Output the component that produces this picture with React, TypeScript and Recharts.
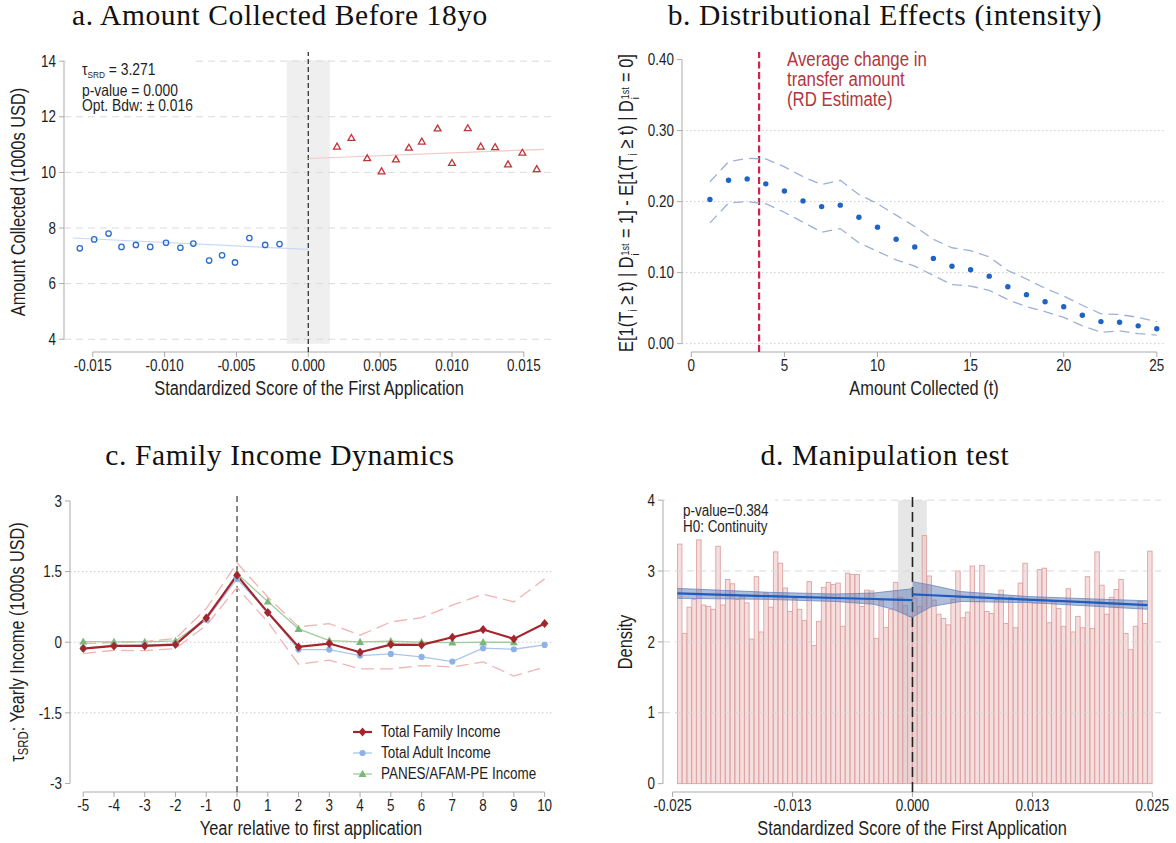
import React from "react";
import {
  ComposedChart,
  Scatter,
  Line,
  Bar,
  Area,
  XAxis,
  YAxis,
  ReferenceLine,
  ReferenceArea,
  Legend,
} from "recharts";

const SANS = "'Liberation Sans Narrow', 'Arial Narrow', 'Liberation Sans', Arial, sans-serif";
const SERIF = "'Liberation Serif', 'Times New Roman', serif";
const NARROW = 0.84; // no condensed face installed, so squeeze the sans horizontally
const AXIS = "#ababab";
const INK = "#1e1e1e";

// ---------- a. Amount collected before 18yo ----------
const aLeftX = [-0.0159, -0.0149, -0.0139, -0.013, -0.012, -0.011, -0.0099, -0.0089, -0.008, -0.0069, -0.006, -0.0051, -0.0041, -0.003, -0.002];
const aLeftY = [7.27, 7.59, 7.8, 7.32, 7.39, 7.32, 7.47, 7.29, 7.44, 6.83, 7.02, 6.76, 7.64, 7.39, 7.42];
const aRightX = [0.002, 0.003, 0.0041, 0.0051, 0.0061, 0.007, 0.0079, 0.009, 0.01, 0.0111, 0.012, 0.013, 0.0139, 0.0149, 0.0159];
const aRightY = [10.93, 11.24, 10.51, 10.04, 10.47, 10.89, 11.11, 11.58, 10.34, 11.59, 10.93, 10.91, 10.29, 10.71, 10.12];
const aFitLeftX = [-0.0164, 0];
const aFitLeftY = [7.64, 7.23];
const aFitRightX = [0, 0.0164];
const aFitRightY = [10.5, 10.83];
const aTicksX = [-0.015, -0.01, -0.005, 0, 0.005, 0.01, 0.015];
const aTicksY = [4, 6, 8, 10, 12, 14];

// ---------- b. Distributional effects ----------
const bT = [1, 2, 3, 4, 5, 6, 7, 8, 9, 10, 11, 12, 13, 14, 15, 16, 17, 18, 19, 20, 21, 22, 23, 24, 25];
const bEst = [0.203, 0.23, 0.232, 0.225, 0.215, 0.201, 0.193, 0.195, 0.178, 0.164, 0.147, 0.136, 0.12, 0.109, 0.104, 0.095, 0.08, 0.069, 0.059, 0.052, 0.04, 0.031, 0.03, 0.025, 0.021];
const bUpper = [0.228, 0.256, 0.261, 0.26, 0.249, 0.235, 0.224, 0.23, 0.21, 0.197, 0.181, 0.165, 0.147, 0.135, 0.131, 0.122, 0.103, 0.091, 0.078, 0.067, 0.054, 0.042, 0.041, 0.037, 0.031];
const bLower = [0.17, 0.198, 0.2, 0.197, 0.185, 0.171, 0.157, 0.162, 0.142, 0.13, 0.118, 0.109, 0.096, 0.083, 0.081, 0.075, 0.062, 0.052, 0.045, 0.037, 0.025, 0.016, 0.018, 0.014, 0.012];
const bRdEstimate = 3.64;
const bTicksX = [0, 5, 10, 15, 20, 25];
const bTicksY = [0, 0.1, 0.2, 0.3, 0.4];
const bGrid = [0, 0.1, 0.2, 0.3];

// ---------- c. Family income dynamics ----------
const cYears = [-5, -4, -3, -2, -1, 0, 1, 2, 3, 4, 5, 6, 7, 8, 9, 10];
const cFamily = [-0.134, -0.078, -0.078, -0.05, 0.517, 1.42, 0.63, -0.099, -0.028, -0.212, -0.05, -0.057, 0.106, 0.269, 0.071, 0.396];
const cAdult = [-0.127, -0.071, -0.057, -0.042, 0.48, 1.345, 0.637, -0.156, -0.156, -0.283, -0.248, -0.311, -0.41, -0.127, -0.149, -0.057];
const cPanesYears = [-5, -4, -3, -2, -1, 0, 1, 2, 3, 4, 5, 6, 7, 8, 9];
const cPanes = [0.014, 0.007, 0.007, 0.028, 0.495, 1.458, 0.863, 0.283, 0.035, 0.007, 0.021, 0, -0.007, 0, 0];
const cUpper = [-0.03, -0.007, 0.014, 0.078, 0.715, 1.684, 0.96, 0.326, 0.396, 0.149, 0.43, 0.524, 0.786, 1.02, 0.856, 1.345];
const cLower = [-0.24, -0.17, -0.18, -0.134, 0.36, 1.16, 0.43, -0.467, -0.382, -0.566, -0.566, -0.495, -0.524, -0.418, -0.72, -0.524];
const cTicksY = [-3, -1.5, 0, 1.5, 3];
const cGrid = [-1.5, 0, 1.5];

// ---------- d. Manipulation test ----------
const dBinWidth = 0.0005;
const dLeftStart = -0.0245;
const dLeft = [3.38, 2.12, 2.49, 2.6, 3.44, 2.52, 2.5, 2.46, 3.35, 2.52, 2.88, 2.82, 2.6, 2.65, 2.55, 2.04, 2.92, 2.14, 2.69, 2.49, 3.27, 3.11, 2.76, 2.43, 2.61, 2.46, 2.3, 2.85, 1.95, 2.29, 2.77, 2.84, 2.81, 2.83, 2.22, 2.97, 2.95, 2.95, 2.5, 2.73, 2.72, 2.05, 2.59, 2.2, 2.46, 2.84, 2.63, 2.51, 2.36];
const dRight = [2.62, 2.5, 3.5, 2.93, 2.59, 2.39, 2.33, 2.24, 2.6, 3.0, 2.34, 2.42, 3.07, 2.57, 3.08, 2.43, 2.4, 2.6, 2.73, 2.26, 2.63, 2.2, 2.83, 3.11, 2.58, 2.55, 3.02, 3.04, 2.27, 2.58, 2.47, 2.22, 2.75, 2.14, 2.36, 2.2, 2.92, 2.19, 3.27, 2.8, 2.39, 2.63, 2.74, 2.88, 2.12, 1.89, 2.22, 2.57, 2.26, 3.28];
const dLeftFitX = [-0.0245, -0.015, -0.008, -0.004, -0.002, 0];
const dLeftFitY = [2.685, 2.645, 2.619, 2.605, 2.597, 2.59];
const dLeftLo = [2.615, 2.6, 2.57, 2.53, 2.46, 2.34];
const dLeftHi = [2.755, 2.7, 2.675, 2.69, 2.72, 2.75];
const dRightFitX = [0, 0.002, 0.005, 0.012, 0.018, 0.0245];
const dRightFitY = [2.67, 2.658, 2.639, 2.597, 2.56, 2.52];
const dRightLo = [2.35, 2.5, 2.57, 2.555, 2.51, 2.46];
const dRightHi = [2.85, 2.8, 2.71, 2.64, 2.61, 2.58];
const dTicksX = [-0.025, -0.0125, 0, 0.0125, 0.025];
const dTickLabels = ["-0.025", "-0.013", "0.000", "0.013", "0.025"];
const dTicksY = [0, 1, 2, 3, 4];
const dGrid = [1, 2, 3, 4];

// rows for the library
const pts = (xs: number[], ys: number[]) => xs.map((x, i) => ({ x, y: ys[i] }));
const bandRows = (xs: number[], lo: number[], hi: number[]) => xs.map((x, i) => ({ x, band: [lo[i], hi[i]] }));

const aLeft = pts(aLeftX, aLeftY);
const aRight = pts(aRightX, aRightY);
const aFitLeft = pts(aFitLeftX, aFitLeftY);
const aFitRight = pts(aFitRightX, aFitRightY);
const bDots = pts(bT, bEst);
const bUp = pts(bT, bUpper);
const bLo = pts(bT, bLower);
const cFam = pts(cYears, cFamily);
const cAd = pts(cYears, cAdult);
const cPa = pts(cPanesYears, cPanes);
const cUp = pts(cYears, cUpper);
const cLo = pts(cYears, cLower);
const dHist = [
  ...dLeft.map((y, i) => ({ x: dLeftStart + (i + 0.5) * dBinWidth, y })),
  ...dRight.map((y, i) => ({ x: (i + 0.5) * dBinWidth, y })),
];
const dLeftFit = pts(dLeftFitX, dLeftFitY);
const dRightFit = pts(dRightFitX, dRightFitY);
const dLeftBand = bandRows(dLeftFitX, dLeftLo, dLeftHi);
const dRightBand = bandRows(dRightFitX, dRightLo, dRightHi);

const RED = "#a6242b";
const BLUE_L = "#a9c5ec";
const BLUE_M = "#8db3e6";
const GREEN_L = "#9fcd9f";
const GREEN_M = "#7ab87a";

// tick text, squeezed to look like the condensed face of the original
const narrowTick = (axis: "x" | "y", fmt: (v: number) => string = (v) => String(v)) => (props: any) => {
  const { x, y, payload, textAnchor } = props;
  return (
    <text
      transform={`translate(${x},${y}) scale(${NARROW},1)`}
      textAnchor={textAnchor}
      dy={axis === "x" ? "0.71em" : "0.355em"}
      fontSize={16}
      fill={INK}
      fontFamily={SANS}
    >
      {fmt(payload.value)}
    </text>
  );
};

const Marker = ({ kind, cx, cy, color }: { kind: string; cx: number; cy: number; color: string }) => {
  if (kind === "diamond")
    return <path d={`M${cx},${cy - 4.5}L${cx + 3.8},${cy}L${cx},${cy + 4.5}L${cx - 3.8},${cy}Z`} fill={color} />;
  if (kind === "triangle")
    return <path d={`M${cx},${cy - 4.2}L${cx + 4},${cy + 3}L${cx - 4},${cy + 3}Z`} fill={color} />;
  return <circle cx={cx} cy={cy} r={3.1} fill={color} />;
};

const hollowCircle = (p: any) => <circle cx={p.cx} cy={p.cy} r={2.7} fill="none" stroke="#2c6bcc" strokeWidth={1.3} />;
const hollowTriangle = (p: any) => (
  <path d={`M${p.cx},${p.cy - 3.4}L${p.cx + 3.4},${p.cy + 2.5}L${p.cx - 3.4},${p.cy + 2.5}Z`} fill="none" stroke="#c0343a" strokeWidth={1.3} />
);
const solidDot = (p: any) => <circle cx={p.cx} cy={p.cy} r={2.7} fill="#1e63c6" />;

// histogram bin: keep the library's centre and height, draw it a full bin wide
const HIST_W = 4.5;
const histBar = (p: any) => {
  const cx = p.x + p.width / 2;
  return (
    <rect x={cx - HIST_W / 2} y={p.y} width={HIST_W} height={p.height} fill="#eec2c2" fillOpacity={0.55} stroke="#dba4a4" strokeWidth={0.9} />
  );
};

const Sub: React.FC<React.PropsWithChildren<{ size?: string }>> = ({ children, size = "0.6em" }) => (
  <span style={{ fontSize: size, verticalAlign: "-0.3em" }}>{children}</span>
);
const SupSub = ({ sup, sub }: { sup: string; sub: string }) => (
  <span style={{ display: "inline-flex", flexDirection: "column", fontSize: "0.55em", lineHeight: 0.95, verticalAlign: "0.4em", margin: "0 1px" }}>
    <span>{sup}</span>
    <span>{sub}</span>
  </span>
);

const Text: React.FC<React.PropsWithChildren<{ x: number; y: number; size?: number; rotate?: boolean; squeeze?: number }>> = ({
  x,
  y,
  size = 19.5,
  rotate,
  squeeze = NARROW,
  children,
}) => (
  <div
    style={{
      position: "absolute",
      left: x,
      top: y,
      transform: `translate(-50%,-50%)${rotate ? " rotate(-90deg)" : ""} scaleX(${squeeze})`,
      whiteSpace: "nowrap",
      fontFamily: SANS,
      fontSize: size,
      color: INK,
      lineHeight: 1.1,
    }}
  >
    {children}
  </div>
);

const Note: React.FC<React.PropsWithChildren<{ left: number; top: number; size: number; lh: number; color?: string }>> = ({
  left,
  top,
  size,
  lh,
  color = INK,
  children,
}) => (
  <div
    style={{
      position: "absolute",
      left,
      top,
      fontFamily: SANS,
      fontSize: size,
      lineHeight: `${lh}px`,
      color,
      whiteSpace: "nowrap",
      transform: `scaleX(${NARROW})`,
      transformOrigin: "0 0",
    }}
  >
    {children}
  </div>
);

const Title: React.FC<React.PropsWithChildren<{ cx: number; top: number }>> = ({ cx, top, children }) => (
  <div
    style={{
      position: "absolute",
      left: cx - 300,
      width: 600,
      top,
      textAlign: "center",
      fontFamily: SERIF,
      fontSize: 29.5,
      lineHeight: "29px",
      letterSpacing: 0.6,
      color: "#111",
    }}
  >
    {children}
  </div>
);

const axisProps = { axisLine: false, tickLine: { stroke: AXIS }, tickSize: 5, tickMargin: 3, allowDataOverflow: true };

const PanelA = () => (
  <ComposedChart width={575} height={420} margin={{ top: 52, right: 21, bottom: 28, left: 0 }}>
    <ReferenceArea x1={-0.0015} x2={0.0015} y1={3.84} y2={14.03} fill="#efefef" fillOpacity={1} stroke="none" ifOverflow="visible" />
    {aTicksY.map((v) => (
      <ReferenceLine key={v} y={v} stroke="#dadada" strokeDasharray="7 5" />
    ))}
    <XAxis type="number" dataKey="x" domain={[-0.017, 0.0171]} ticks={aTicksX} tick={narrowTick("x", (v) => v.toFixed(3))} height={40} {...axisProps} />
    <YAxis type="number" dataKey="y" domain={[3.54, 14.33]} ticks={aTicksY} tick={narrowTick("y")} width={64} {...axisProps} />
    <ReferenceLine segment={[{ x: -0.017, y: 4 }, { x: -0.017, y: 14 }]} stroke={AXIS} ifOverflow="visible" />
    <ReferenceLine segment={[{ x: -0.015, y: 3.54 }, { x: 0.015, y: 3.54 }]} stroke={AXIS} ifOverflow="visible" />
    <ReferenceLine x={0} stroke="#333" strokeDasharray="5 3" strokeWidth={1.3} />
    <Line data={aFitLeft} dataKey="y" stroke="#c7daf3" strokeWidth={1.2} dot={false} activeDot={false} isAnimationActive={false} />
    <Line data={aFitRight} dataKey="y" stroke="#f2c8c8" strokeWidth={1.2} dot={false} activeDot={false} isAnimationActive={false} />
    <Scatter data={aLeft} dataKey="y" shape={hollowCircle} isAnimationActive={false} />
    <Scatter data={aRight} dataKey="y" shape={hollowTriangle} isAnimationActive={false} />
  </ComposedChart>
);

const PanelB = () => (
  <ComposedChart width={586} height={420} margin={{ top: 52, right: 11, bottom: 28, left: 0 }}>
    {bGrid.map((v) => (
      <ReferenceLine key={v} y={v} stroke="#cdcdcd" strokeDasharray="1.5 2.5" />
    ))}
    <XAxis type="number" dataKey="x" domain={[-0.5, 25.44]} ticks={bTicksX} tick={narrowTick("x")} height={40} {...axisProps} />
    <YAxis type="number" dataKey="y" domain={[-0.0118, 0.4107]} ticks={bTicksY} tick={narrowTick("y", (v) => v.toFixed(2))} width={92} {...axisProps} />
    <ReferenceLine segment={[{ x: -0.5, y: 0 }, { x: -0.5, y: 0.4 }]} stroke={AXIS} ifOverflow="visible" />
    <ReferenceLine segment={[{ x: 0, y: -0.0118 }, { x: 25, y: -0.0118 }]} stroke={AXIS} ifOverflow="visible" />
    <ReferenceLine x={bRdEstimate} stroke="#d3224e" strokeWidth={2.2} strokeDasharray="7 3.5" />
    <Line data={bUp} dataKey="y" stroke="#9cb0d9" strokeWidth={1.3} strokeDasharray="10 6" dot={false} activeDot={false} isAnimationActive={false} />
    <Line data={bLo} dataKey="y" stroke="#9cb0d9" strokeWidth={1.3} strokeDasharray="10 6" dot={false} activeDot={false} isAnimationActive={false} />
    <Scatter data={bDots} dataKey="y" shape={solidDot} isAnimationActive={false} />
  </ComposedChart>
);

const legendItems = [
  { name: "Total Family Income", color: RED, mark: RED, width: 2.2, kind: "diamond" },
  { name: "Total Adult Income", color: BLUE_L, mark: BLUE_M, width: 1.3, kind: "circle" },
  { name: "PANES/AFAM-PE Income", color: GREEN_L, mark: GREEN_M, width: 1.3, kind: "triangle" },
];

const CLegend = () => (
  <div style={{ fontFamily: SANS, fontSize: 16, color: INK }}>
    {legendItems.map((it) => (
      <div key={it.name} style={{ display: "flex", alignItems: "center", height: 21 }}>
        <svg width={28} height={12} style={{ display: "block", flex: "none" }}>
          <line x1={0} x2={19} y1={6} y2={6} stroke={it.color} strokeWidth={it.width} />
          <Marker kind={it.kind} cx={9.5} cy={6} color={it.mark} />
        </svg>
        <span style={{ display: "inline-block", whiteSpace: "nowrap", transform: `scaleX(${NARROW})`, transformOrigin: "0 50%" }}>{it.name}</span>
      </div>
    ))}
  </div>
);

const dotOf = (kind: string, color: string) => (p: any) => <Marker key={`${kind}${p.index}`} kind={kind} cx={p.cx} cy={p.cy} color={color} />;

const PanelC = () => (
  <ComposedChart width={575} height={403} margin={{ top: 52, right: 23, bottom: 11, left: 0 }}>
    {cGrid.map((v) => (
      <ReferenceLine key={v} y={v} stroke="#cccccc" strokeDasharray="1.5 2.5" />
    ))}
    <XAxis type="number" dataKey="x" domain={[-5.43, 10.24]} ticks={cYears} tick={narrowTick("x")} height={40} {...axisProps} />
    <YAxis type="number" dataKey="y" domain={[-3.18, 3.19]} ticks={cTicksY} tick={narrowTick("y")} width={70} {...axisProps} />
    <ReferenceLine segment={[{ x: -5.43, y: -3 }, { x: -5.43, y: 3 }]} stroke={AXIS} ifOverflow="visible" />
    <ReferenceLine segment={[{ x: -5, y: -3.18 }, { x: 10, y: -3.18 }]} stroke={AXIS} ifOverflow="visible" />
    <ReferenceLine x={0} stroke="#555" strokeDasharray="6 4" strokeWidth={1.4} />
    <Line data={cUp} dataKey="y" stroke="#f2b3b3" strokeWidth={1.3} strokeDasharray="13 6" dot={false} activeDot={false} isAnimationActive={false} />
    <Line data={cLo} dataKey="y" stroke="#f2b3b3" strokeWidth={1.3} strokeDasharray="13 6" dot={false} activeDot={false} isAnimationActive={false} />
    <Line data={cPa} dataKey="y" stroke={GREEN_L} strokeWidth={1.3} dot={dotOf("triangle", GREEN_M)} activeDot={false} isAnimationActive={false} />
    <Line data={cAd} dataKey="y" stroke={BLUE_L} strokeWidth={1.3} dot={dotOf("circle", BLUE_M)} activeDot={false} isAnimationActive={false} />
    <Line data={cFam} dataKey="y" stroke={RED} strokeWidth={2.2} dot={dotOf("diamond", RED)} activeDot={false} isAnimationActive={false} />
    <Legend layout="vertical" align="center" verticalAlign="middle" content={() => <CLegend />}
      wrapperStyle={{ left: 353, top: 281, width: "auto" }} />
  </ComposedChart>
);

const PanelD = () => (
  <ComposedChart width={586} height={403} data={dHist} margin={{ top: 52, right: 15, bottom: 11, left: 0 }}>
    <ReferenceArea x1={-0.0015} x2={0.0015} y1={0} y2={4} fill="#e6e6e6" fillOpacity={1} stroke="none" ifOverflow="visible" />
    {dGrid.map((v) => (
      <ReferenceLine key={v} y={v} stroke="#d8d8d8" strokeDasharray="7 5" />
    ))}
    <XAxis type="number" dataKey="x" domain={[-0.026, 0.0259]} ticks={dTicksX}
      tick={narrowTick("x", (v) => dTickLabels[dTicksX.indexOf(v)] ?? "")} height={40} {...axisProps} />
    <YAxis type="number" dataKey="y" domain={[-0.118, 4.115]} ticks={dTicksY} tick={narrowTick("y")} width={73} {...axisProps} />
    <ReferenceLine segment={[{ x: -0.026, y: 0 }, { x: -0.026, y: 4 }]} stroke={AXIS} ifOverflow="visible" />
    <ReferenceLine segment={[{ x: -0.025, y: -0.118 }, { x: 0.025, y: -0.118 }]} stroke={AXIS} ifOverflow="visible" />
    <Bar dataKey="y" barSize={3} shape={histBar} isAnimationActive={false} />
    <Area data={dLeftBand} dataKey="band" type="linear" fill="#4d6fae" fillOpacity={0.45} stroke="#6a86bd" strokeWidth={0.8} activeDot={false} isAnimationActive={false} zIndex={650} />
    <Area data={dRightBand} dataKey="band" type="linear" fill="#4d6fae" fillOpacity={0.45} stroke="#6a86bd" strokeWidth={0.8} activeDot={false} isAnimationActive={false} zIndex={650} />
    <Line data={dLeftFit} dataKey="y" stroke="#1d5cc0" strokeWidth={2.2} dot={false} activeDot={false} isAnimationActive={false} zIndex={700} />
    <Line data={dRightFit} dataKey="y" stroke="#1d5cc0" strokeWidth={2.2} dot={false} activeDot={false} isAnimationActive={false} zIndex={700} />
    <ReferenceLine x={0} stroke="#222" strokeDasharray="10 5" strokeWidth={1.6} />
  </ComposedChart>
);

export default function App() {
  return (
    <div style={{ position: "absolute", left: 0, top: 0, width: 1176, height: 843, background: "#fff", overflow: "hidden" }}>
      <div style={{ position: "absolute", left: 0, top: 0 }}>
        <PanelA />
      </div>
      <div style={{ position: "absolute", left: 590, top: 0 }}>
        <PanelB />
      </div>
      <div style={{ position: "absolute", left: 0, top: 440 }}>
        <PanelC />
      </div>
      <div style={{ position: "absolute", left: 590, top: 440 }}>
        <PanelD />
      </div>

      <Title cx={280} top={1}>a. Amount Collected Before 18yo</Title>
      <Title cx={885} top={1}>b. Distributional Effects (intensity)</Title>
      <Title cx={280} top={441}>c. Family Income Dynamics</Title>
      <Title cx={885} top={441}>d. Manipulation test</Title>

      {/* panel a text */}
      <div style={{ position: "absolute", left: 66, top: 56, width: 126, height: 55, background: "#fff" }} />
      <Note left={82} top={62} size={16.5} lh={15.7}>
        <div>
          τ<Sub>SRD</Sub> = 3.271
        </div>
        <div>p-value = 0.000</div>
        <div>Opt. Bdw: ± 0.016</div>
      </Note>
      <Text x={18.5} y={202} rotate>
        Amount Collected (1000s USD)
      </Text>
      <Text x={309} y={389}>
        Standardized Score of the First Application
      </Text>

      {/* panel b text */}
      <Note left={787} top={49} size={20} lh={20} color="#b3363e">
        <div>Average change in</div>
        <div>transfer amount</div>
        <div>(RD Estimate)</div>
      </Note>
      <Text x={628} y={203} size={20.5} squeeze={0.8} rotate>
        E[1(T<Sub>i</Sub> ≥ t) | D<SupSub sup="1st" sub="i" /> = 1] - E[1(T<Sub>i</Sub> ≥ t) | D<SupSub sup="1st" sub="i" /> = 0]
      </Text>
      <Text x={923.5} y={389}>
        Amount Collected (t)
      </Text>

      {/* panel c text */}
      <Text x={18.5} y={642} size={20} squeeze={0.81} rotate>
        τ<Sub size="0.7em">SRD</Sub>: Yearly Income (1000s USD)
      </Text>
      <Text x={311} y={829}>
        Year relative to first application
      </Text>

      {/* panel d text */}
      <div style={{ position: "absolute", left: 665, top: 495, width: 110, height: 40, background: "#fff" }} />
      <Note left={683} top={503} size={16} lh={15.7}>
        <div>p-value=0.384</div>
        <div>H0: Continuity</div>
      </Note>
      <Text x={626} y={642} rotate>
        Density
      </Text>
      <Text x={912} y={829}>
        Standardized Score of the First Application
      </Text>
    </div>
  );
}
